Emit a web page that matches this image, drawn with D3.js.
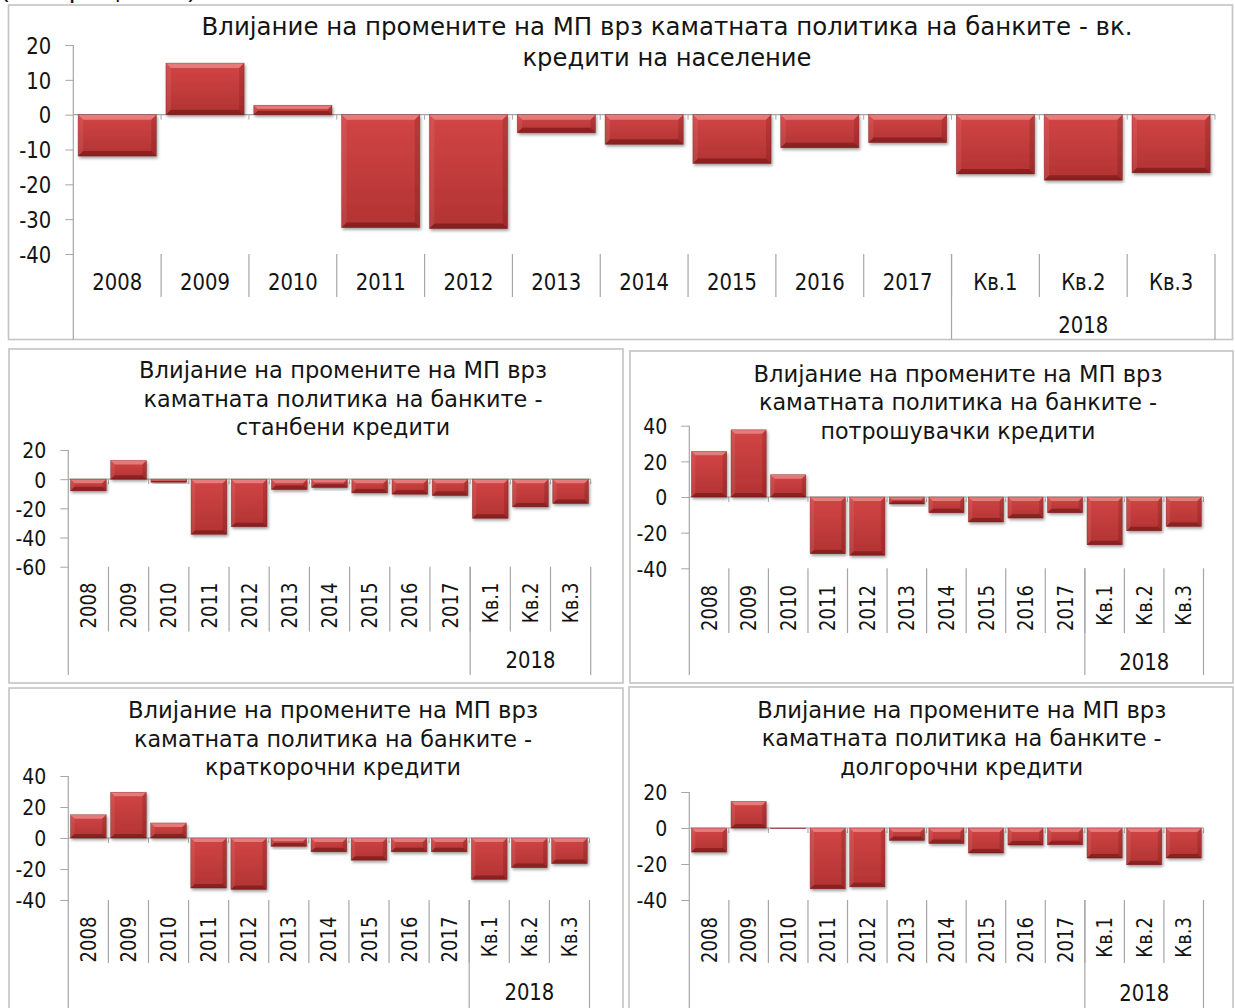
<!DOCTYPE html>
<html><head><meta charset="utf-8">
<script src="https://cdn.jsdelivr.net/npm/d3@7"></script>
<style>
body{margin:0;background:#fff;}
svg{display:block;}
text{font-family:Tahoma,'DejaVu Sans',sans-serif;fill:#141414;}
</style>
</head><body>
<svg id="c" width="1235" height="1008"></svg>
<script>
// ---------------- DATA ----------------
const categories = ["2008","2009","2010","2011","2012","2013","2014","2015","2016","2017","Кв.1","Кв.2","Кв.3"];
const groupLabel = "2018";
const groupStart = "Кв.1";
const unitNote = "(во проценти)";

const householdValues = [-11.9, 14.8, 2.7, -32.4, -32.7, -5.2, -8.5, -14.0, -9.5, -8.0, -17.0, -18.8, -16.7];
const housingValues   = [-8.0, 12.8, -2.1, -37.8, -32.6, -7.1, -5.7, -9.4, -10.3, -11.2, -26.8, -19.0, -16.7];
const consumerValues  = [25.6, 37.7, 12.5, -31.8, -32.7, -3.9, -8.8, -14.0, -11.8, -8.8, -26.8, -18.9, -16.5];
const shortTermValues = [15.0, 29.5, 9.7, -32.3, -33.2, -5.4, -8.9, -14.3, -8.9, -8.9, -26.7, -19.1, -16.5];
const longTermValues  = [-13.4, 14.8, -0.3, -33.8, -32.7, -6.9, -8.6, -13.9, -9.5, -9.3, -16.7, -20.4, -16.7];

const householdTicks = [20, 10, 0, -10, -20, -30, -40];
const housingTicks   = [20, 0, -20, -40, -60];
const consumerTicks  = [40, 20, 0, -20, -40];
const shortTermTicks = [40, 20, 0, -20, -40];
const longTermTicks  = [20, 0, -20, -40];

const householdTitle = ["Влијание на промените на МП врз каматната политика на банките - вк.", "кредити на население"];
const housingTitle   = ["Влијание на промените на МП врз", "каматната политика на банките -", "станбени кредити"];
const consumerTitle  = ["Влијание на промените на МП врз", "каматната политика на банките -", "потрошувачки кредити"];
const shortTermTitle = ["Влијание на промените на МП врз", "каматната политика на банките -", "краткорочни кредити"];
const longTermTitle  = ["Влијание на промените на МП врз", "каматната политика на банките -", "долгорочни кредити"];

// ---------------- LAYOUT ----------------
const panels = [
  {values: householdValues, ticks: householdTicks, title: householdTitle,
   frame:[8.5,5,1224,334.5], x0:73.3, x1:1215, yTop:45, yBottom:254, axisBottom:339.5,
   tx:667, ty:[27,58], tw:[931,289], tfs:24, yfs:22.8, xfs:22.8, gfs:22.8, rotate:false,
   labelY:282, sepBottom:297, groupY:325, bevel:5},
  {values: housingValues, ticks: housingTicks, title: housingTitle,
   frame:[9,349,614,334], x0:68.3, x1:590.7, yTop:450, yBottom:566.7, axisBottom:675,
   tx:343, ty:[370,398.3,426.7], tw:[408,399,214], tfs:23.5, yfs:22, xfs:21, gfs:22.8, rotate:true,
   labelY:582.5, sepBottom:631.5, groupY:660, bevel:4},
  {values: consumerValues, ticks: consumerTicks, title: consumerTitle,
   frame:[630,351,603,332], x0:689.3, x1:1203.5, yTop:425.7, yBottom:568.3, axisBottom:675,
   tx:958, ty:[373.3,401.7,431], tw:[409,398,275], tfs:23.5, yfs:22, xfs:21, gfs:22.8, rotate:true,
   labelY:585, sepBottom:633, groupY:661.7, bevel:4},
  {values: shortTermValues, ticks: shortTermTicks, title: shortTermTitle,
   frame:[9,688,614,330], x0:68.3, x1:589.5, yTop:776, yBottom:900, axisBottom:1010,
   tx:333, ty:[710,738.3,766.7], tw:[410,398,256], tfs:23.5, yfs:22, xfs:21, gfs:22.8, rotate:true,
   labelY:916.5, sepBottom:963, groupY:991.7, bevel:4},
  {values: longTermValues, ticks: longTermTicks, title: longTermTitle,
   frame:[629,687,604,330], x0:689.3, x1:1203.5, yTop:792, yBottom:900, axisBottom:1010,
   tx:961.7, ty:[710,738,766.7], tw:[409,400,243], tfs:23.5, yfs:22, xfs:21, gfs:22.8, rotate:true,
   labelY:917, sepBottom:963, groupY:993, bevel:4}
];

const NARROW = 0.86; // mimic the narrower Tahoma proportions

function narrow(sel) {
  sel.each(function() {
    const w = this.getComputedTextLength();
    if (w > 0) d3.select(this).attr("textLength", w * NARROW).attr("lengthAdjust","spacingAndGlyphs");
  });
}

const svg = d3.select("#c");
const defs = svg.append("defs");
const grad = defs.append("linearGradient").attr("id","face").attr("x1",0).attr("y1",0).attr("x2",0).attr("y2",1);
grad.append("stop").attr("offset","0%").attr("stop-color","#d24545");
grad.append("stop").attr("offset","100%").attr("stop-color","#b23333");
const filt = defs.append("filter").attr("id","sh").attr("x","-20%").attr("y","-20%").attr("width","140%").attr("height","160%");
filt.append("feDropShadow").attr("dx",1.2).attr("dy",2).attr("stdDeviation",1.4)
  .attr("flood-color","#000").attr("flood-opacity",0.38);

// partially visible unit note at very top (cut off as in the original)
svg.append("text").attr("x",0).attr("y",-1.5).attr("font-size",22)
  .attr("textLength",197).attr("lengthAdjust","spacingAndGlyphs").text(unitNote);

const AX = "#a6a6a6";

function drawPanel(p) {
  const g = svg.append("g");
  const [fx,fy,fw,fh] = p.frame;
  g.append("rect").attr("x",fx).attr("y",fy).attr("width",fw).attr("height",fh)
    .attr("fill","#fff").attr("stroke","#c4c4c4").attr("stroke-width",1.6);

  const x = d3.scaleBand().domain(categories).range([p.x0,p.x1]).paddingInner(0.11).paddingOuter(0.055);
  const y = d3.scaleLinear().domain([d3.min(p.ticks), d3.max(p.ticks)]).range([p.yBottom, p.yTop]);
  const halfGap = (x.step() - x.bandwidth())/2;
  const bounds = categories.map(c => x(c) - halfGap).concat([p.x1]);

  // title
  p.title.forEach((line,i) => {
    g.append("text").attr("x",p.tx).attr("y",p.ty[i]).attr("dy","0.35em")
      .attr("text-anchor","middle").attr("font-size",p.tfs)
      .attr("textLength",p.tw[i]).attr("lengthAdjust","spacingAndGlyphs").text(line);
  });

  // y axis
  const ya = g.append("g").attr("transform",`translate(${p.x0},0)`)
    .call(d3.axisLeft(y).tickValues(p.ticks).tickSize(8).tickSizeOuter(0).tickPadding(14).tickFormat(d => String(d)));
  ya.select(".domain").remove();
  ya.selectAll(".tick line").attr("stroke",AX);
  const yt = ya.selectAll(".tick text").attr("font-size",p.yfs).attr("fill","#141414").attr("dy","0.36em");
  narrow(yt);

  g.append("line").attr("x1",p.x0).attr("x2",p.x0).attr("y1",p.yTop).attr("y2",p.axisBottom)
    .attr("stroke",AX).attr("stroke-width",1.2);

  // zero line + boundary ticks
  const y0 = y(0);
  g.append("line").attr("x1",p.x0).attr("x2",p.x1).attr("y1",y0).attr("y2",y0)
    .attr("stroke",AX).attr("stroke-width",1.2);
  g.selectAll(".zt").data(bounds.slice(1)).enter().append("line")
    .attr("x1",d=>d).attr("x2",d=>d).attr("y1",y0).attr("y2",y0+5).attr("stroke",AX);

  // bars
  const data = categories.map((c,i) => ({c, v: p.values[i]}));
  const bars = g.selectAll(".bar").data(data).enter().append("g").attr("filter","url(#sh)");
  bars.each(function(d) {
    const bx = x(d.c), bw = x.bandwidth();
    const by = Math.min(y(d.v), y0), bh = Math.max(Math.abs(y(d.v) - y0), 0.6);
    const b = Math.max(0, Math.min(p.bevel, bw/4, bh/2.5));
    const s = d3.select(this);
    s.append("rect").attr("x",bx).attr("y",by).attr("width",bw).attr("height",bh).attr("fill","url(#face)");
    const poly = (pts, fill) => s.append("polygon").attr("points", pts.map(q=>q.join(",")).join(" ")).attr("fill",fill);
    if (b > 0.5) {
      poly([[bx,by],[bx+bw,by],[bx+bw-b,by+b],[bx+b,by+b]], "rgba(255,190,190,0.45)");
      poly([[bx,by+bh],[bx+bw,by+bh],[bx+bw-b,by+bh-b],[bx+b,by+bh-b]], "rgba(70,0,0,0.38)");
      poly([[bx,by],[bx+b,by+b],[bx+b,by+bh-b],[bx,by+bh]], "rgba(255,200,200,0.10)");
      poly([[bx+bw,by],[bx+bw-b,by+b],[bx+bw-b,by+bh-b],[bx+bw,by+bh]], "rgba(60,0,0,0.16)");
    }
    s.append("rect").attr("x",bx).attr("y",by).attr("width",bw).attr("height",bh)
      .attr("fill","none").attr("stroke","rgba(110,20,20,0.55)").attr("stroke-width",0.6);
  });

  // category separators
  g.selectAll(".sep").data(bounds.slice(1, -1)).enter().append("line")
    .attr("x1",d=>d).attr("x2",d=>d).attr("y1",p.yBottom).attr("y2",p.sepBottom)
    .attr("stroke",AX).attr("stroke-width",1.2);
  // group lines (2018)
  const gx0 = x(groupStart) - halfGap;
  [gx0, p.x1].forEach(gx => g.append("line").attr("x1",gx).attr("x2",gx)
    .attr("y1",p.yBottom).attr("y2",p.axisBottom).attr("stroke",AX).attr("stroke-width",1.2));

  // category labels
  const xa = g.append("g").attr("transform",`translate(0,${p.labelY})`)
    .call(d3.axisBottom(x).tickSize(0).tickPadding(0));
  xa.select(".domain").remove();
  const lt = xa.selectAll(".tick text").attr("font-size",p.xfs).attr("fill","#141414");
  if (p.rotate) {
    lt.attr("transform","rotate(-90)").attr("text-anchor","end").attr("x",0).attr("y",0).attr("dy","0.36em");
  } else {
    lt.attr("y",0).attr("dy","0.36em");
  }
  narrow(lt);

  const gt = g.append("text").attr("x",(gx0+p.x1)/2).attr("y",p.groupY).attr("dy","0.36em")
    .attr("text-anchor","middle").attr("font-size",p.gfs).text(groupLabel);
  narrow(gt);
}

panels.forEach(drawPanel);
</script>
</body></html>
